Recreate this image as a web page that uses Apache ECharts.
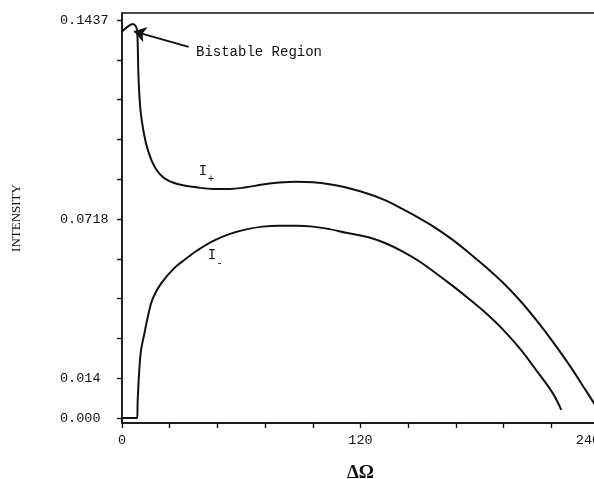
<!DOCTYPE html>
<html>
<head>
<meta charset="utf-8">
<script src="https://cdn.jsdelivr.net/npm/echarts@6/dist/echarts.min.js"></script>
<style>
  html, body { margin: 0; padding: 0; background: #fff; overflow: hidden; }
  #chart { width: 620px; height: 479px; }
</style>
</head>
<body>
<div id="chart"></div>
<script>
// Detuning (ΔΩ) vs. intensity for the two branches I+ and I-
const iPlusDetuning = [0, 2.9, 5.4, 7.1, 7.6, 7.9, 8.3, 9.3, 11.0, 13.0, 16.4, 21.4, 29.0, 37.4, 46.0, 54.0,
  62.5, 70.8, 79.2, 87.6, 96.0, 104.4, 112.8, 124.5, 132.9, 141.3, 149.7, 158.1, 166.4, 174.8, 183.2,
  191.6, 200.0, 208.4, 216.8, 225.2, 233.6, 241.0];
const iPlusIntensity = [0.1395, 0.1413, 0.1423, 0.1413, 0.1395, 0.1353, 0.1232, 0.1112, 0.1028, 0.0968, 0.0907,
  0.0865, 0.0843, 0.0833, 0.0827, 0.0827, 0.0833, 0.0843, 0.0850, 0.0853, 0.0851, 0.0844, 0.0832, 0.0808,
  0.0785, 0.0754, 0.0721, 0.0685, 0.0643, 0.0595, 0.0544, 0.0489, 0.0426, 0.0354, 0.0275, 0.0190, 0.0097, 0.0014];

const iMinusDetuning = [0, 7.6, 7.9, 8.8, 9.6, 11.3, 13.0, 15.5, 19.7, 26.4, 32.0, 37.4, 45.7, 54.0, 62.5, 70.8,
  79.2, 87.6, 96.0, 104.4, 112.8, 124.5, 132.9, 141.3, 149.7, 158.1, 166.4, 174.8, 183.2, 191.6, 200.0,
  208.4, 216.8, 221.0];
const iMinusIntensity = [0, 0, 0.0065, 0.0185, 0.0246, 0.0306, 0.0366, 0.0432, 0.0486, 0.0542, 0.0574, 0.0603,
  0.0639, 0.0664, 0.0681, 0.0691, 0.0694, 0.0694, 0.0691, 0.0682, 0.0669, 0.0652, 0.0630, 0.0601, 0.0565,
  0.0522, 0.0477, 0.0429, 0.0378, 0.0320, 0.0252, 0.0173, 0.0089, 0.0029];

// Axis ticks and labels
const yStep = 0.01437;
const yTickValues = [0, 1, 2, 3, 4, 5, 6, 7, 8, 9, 10].map(k => +(k * yStep).toFixed(5));
const yLabelValues = [0, 0.01437, 0.07185, 0.1437];
const yLabelTexts = ['0.000', '0.014', '0.0718', '0.1437'];
const xTickStep = 24;
const xLabelValues = [0, 120, 240];
const xLabelTexts = ['0', '120', '240'];

// Annotation arrow: from label to the loop
const bistableFrom = [33.5, 0.1340];
const bistableTo = [6.0, 0.1396];

const zip = (xs, ys) => xs.map((x, i) => [x, ys[i]]);
const mono = 'Liberation Mono, Courier New, monospace';
const serif = 'Liberation Serif, Times New Roman, serif';
const ink = '#111';

const chart = echarts.init(document.getElementById('chart'), null, { renderer: 'canvas' });
chart.setOption({
  animation: false,
  backgroundColor: '#fff',
  grid: {
    left: 122, right: 21, top: 13, bottom: 56,
    outerBoundsMode: 'none', containLabel: false,
    show: true, borderColor: ink, borderWidth: 1.3, backgroundColor: 'transparent'
  },
  xAxis: {
    type: 'value',
    min: 0, max: 240, interval: xTickStep,
    name: 'ΔΩ', nameLocation: 'middle', nameGap: 41,
    nameTextStyle: { fontFamily: serif, fontSize: 19, fontWeight: 'bold', color: ink },
    axisLine: { show: true, onZero: false, lineStyle: { color: ink, width: 1.6 } },
    axisTick: { show: true, inside: false, length: 5, lineStyle: { color: ink, width: 1.4 } },
    splitLine: { show: false },
    axisLabel: {
      customValues: xLabelValues,
      margin: 10,
      fontFamily: mono, fontSize: 13.5, color: ink,
      formatter: v => {
        const t = xLabelTexts[xLabelValues.indexOf(v)] ?? '';
        return v === 240 ? '{last|' + t + '}' : t;
      },
      rich: { last: { fontFamily: mono, fontSize: 13.5, color: ink, padding: [0, 22, 0, 0] } }
    }
  },
  yAxis: {
    type: 'value',
    min: -0.0018, max: 0.14623,
    name: 'INTENSITY', nameLocation: 'middle', nameRotate: 90, nameGap: 99,
    nameTextStyle: { fontFamily: serif, fontSize: 13, color: ink },
    axisLine: { show: true, onZero: false, lineStyle: { color: ink, width: 1.6 } },
    axisTick: { show: true, inside: false, length: 5, customValues: yTickValues, lineStyle: { color: ink, width: 1.4 } },
    splitLine: { show: false },
    axisLabel: {
      customValues: yLabelValues,
      align: 'left', margin: 62,
      fontFamily: mono, fontSize: 13.5, color: ink,
      formatter: v => yLabelTexts[yLabelValues.indexOf(v)] ?? ''
    }
  },
  series: [
    {
      name: 'I+', type: 'line',
      data: zip(iPlusDetuning, iPlusIntensity),
      showSymbol: false, smooth: 0.4,
      lineStyle: { color: ink, width: 2 },
      markLine: {
        silent: true,
        symbol: ['none', 'arrow'], symbolSize: 12,
        lineStyle: { color: ink, width: 2, type: 'solid' },
        label: { show: false },
        emphasis: { disabled: true },
        data: [[{ coord: bistableFrom }, { coord: bistableTo }]]
      }
    },
    {
      name: 'I-', type: 'line',
      data: zip(iMinusDetuning, iMinusIntensity),
      showSymbol: false, smooth: 0.4,
      lineStyle: { color: ink, width: 2 }
    }
  ],
  graphic: [
    { type: 'text', x: 196, y: 52.5, style: { text: 'Bistable Region', font: '14px ' + mono, fill: ink, textVerticalAlign: 'middle' } },
    { type: 'text', x: 203, y: 171, style: { text: 'I', font: '14px ' + mono, fill: ink, textAlign: 'center', textVerticalAlign: 'middle' } },
    { type: 'text', x: 211, y: 179, style: { text: '+', font: '11px ' + mono, fill: ink, textAlign: 'center', textVerticalAlign: 'middle' } },
    { type: 'text', x: 212, y: 255, style: { text: 'I', font: '14px ' + mono, fill: ink, textAlign: 'center', textVerticalAlign: 'middle' } },
    { type: 'text', x: 219.5, y: 263.5, style: { text: '-', font: '11px ' + mono, fill: ink, textAlign: 'center', textVerticalAlign: 'middle' } }
  ]
});
</script>
</body>
</html>
